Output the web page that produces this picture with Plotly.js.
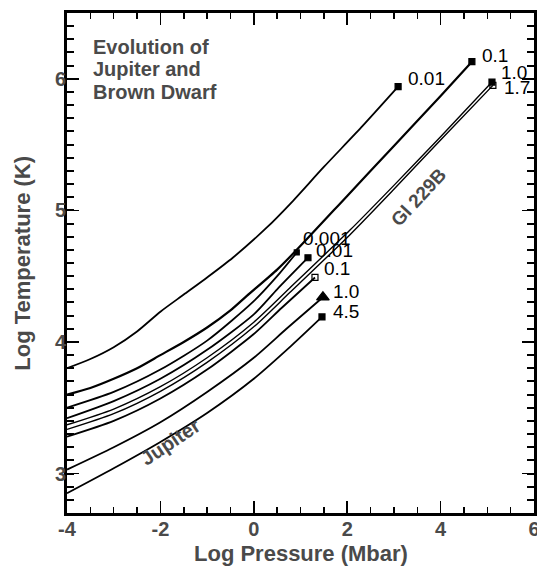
<!DOCTYPE html>
<html>
<head>
<meta charset="utf-8">
<script src="https://cdn.plot.ly/plotly-3.0.1.min.js"></script>
<style>html,body{margin:0;padding:0;background:#fff;}#chart{width:537px;height:566px;}</style>
</head>
<body>
<div id="chart"></div>
<script>
// ---- data (log P in Mbar, log T in K) ----
// Gl 229B (brown dwarf) curves, ages in Gyr
const bd001_x = [-4, -3.5, -3, -2.5, -2, -1.5, -1, -0.45, 0.28, 0.78, 1.5, 2.3, 3.09];
const bd001_y = [3.80, 3.87, 3.96, 4.08, 4.23, 4.36, 4.49, 4.64, 4.87, 5.05, 5.33, 5.63, 5.94];
const bd01_x = [-4, -3.5, -3, -2.5, -2, -1.5, -1, -0.5, -0.15, 0.5, 0.92, 2, 3, 4, 4.67];
const bd01_y = [3.60, 3.65, 3.72, 3.80, 3.90, 4.00, 4.11, 4.24, 4.35, 4.55, 4.70, 5.11, 5.49, 5.87, 6.13];
const bd10_x = [-4, -3, -2, -1, 0, 0.77, 2.06, 3, 4, 5.10];
const bd10_y = [3.37, 3.49, 3.66, 3.88, 4.15, 4.41, 4.85, 5.19, 5.56, 5.975];
const bd17_x = [-4, -3, -2, -1, 0, 0.77, 2.06, 3, 4, 5.12];
const bd17_y = [3.335, 3.455, 3.625, 3.845, 4.115, 4.375, 4.815, 5.16, 5.535, 5.95];
// Jupiter curves, ages in Gyr
const jup0001_x = [-4, -3, -2, -1, 0, 0.5, 0.92];
const jup0001_y = [3.50, 3.62, 3.79, 4.01, 4.31, 4.50, 4.68];
const jup001_x = [-4, -3, -2, -1, 0, 0.5, 1.16];
const jup001_y = [3.42, 3.55, 3.72, 3.94, 4.21, 4.40, 4.64];
const jup01_x = [-4, -3, -2, -1, 0, 0.6, 1.31];
const jup01_y = [3.28, 3.40, 3.57, 3.79, 4.06, 4.26, 4.49];
const jup10_x = [-4, -3, -2, -1, 0, 0.7, 1.48];
const jup10_y = [3.03, 3.20, 3.39, 3.62, 3.88, 4.10, 4.34];
const jup45_x = [-4, -3, -2, -1, 0, 0.8, 1.46];
const jup45_y = [2.85, 3.04, 3.24, 3.46, 3.72, 3.97, 4.19];

const ageLabels = ['0.01', '0.1', '1.0', '1.7', '0.001', '0.01', '0.1', '1.0', '4.5'];
const xTickVals = [-4, -2, 0, 2, 4, 6];
const yTickVals = [3, 4, 5, 6];

// ---- drawing ----
const series = [
  {x: bd001_x, y: bd001_y, sym: 'square', size: 6, w: 1.8, dx: 8, dy: 8},
  {x: bd01_x, y: bd01_y, sym: 'square', size: 6, w: 2.2, dx: 8, dy: 6},
  {x: bd10_x, y: bd10_y, sym: 'square', size: 6, w: 1.4, dx: 7, dy: 10},
  {x: bd17_x, y: bd17_y, sym: 'square-open', size: 6, w: 1.4, dx: 9, dy: -2},
  {x: jup0001_x, y: jup0001_y, sym: 'square', size: 5, w: 1.8, dx: 4, dy: 14},
  {x: jup001_x, y: jup001_y, sym: 'square', size: 6, w: 1.8, dx: 6, dy: 7},
  {x: jup01_x, y: jup01_y, sym: 'square-open', size: 6, w: 1.8, dx: 7, dy: 9},
  {x: jup10_x, y: jup10_y, sym: 'triangle-up', size: 11, w: 1.8, dx: 8, dy: 6},
  {x: jup45_x, y: jup45_y, sym: 'square', size: 6, w: 1.8, dx: 9, dy: 5}
];

const traces = [];
const annotations = [];
const FONT = 'Arial, "Liberation Sans", Helvetica, sans-serif';
series.forEach((s, i) => {
  traces.push({
    x: s.x, y: s.y, type: 'scatter', mode: 'lines',
    line: {color: '#000', width: s.w, shape: 'spline', smoothing: 0.7},
    hoverinfo: 'skip', showlegend: false
  });
  const n = s.x.length - 1;
  traces.push({
    x: [s.x[n]], y: [s.y[n]], type: 'scatter', mode: 'markers',
    marker: {symbol: s.sym, size: s.size, color: '#000', line: {color: '#000', width: 1.2}},
    hoverinfo: 'skip', showlegend: false
  });
  annotations.push({
    x: s.x[n], y: s.y[n], xref: 'x', yref: 'y', text: ageLabels[i],
    showarrow: false, xanchor: 'left', yanchor: 'middle',
    xshift: s.dx, yshift: s.dy,
    font: {family: FONT, size: 19, color: '#000'}
  });
});
// empty trace so the mirrored (top/right) axes with minor ticks exist
traces.push({x: [], y: [], xaxis: 'x2', yaxis: 'y2', type: 'scatter', mode: 'lines', showlegend: false, hoverinfo: 'skip'});

const gray = '#4a4a4a';
const boldFont = (size) => ({family: FONT, size: size, color: gray, weight: 'bold'});
annotations.push(
  {xref: 'paper', yref: 'paper', x: 0.051, y: 0.932, text: 'Evolution of', showarrow: false,
   xanchor: 'left', yanchor: 'middle', font: boldFont(20)},
  {xref: 'paper', yref: 'paper', x: 0.051, y: 0.888, text: 'Jupiter and', showarrow: false,
   xanchor: 'left', yanchor: 'middle', font: boldFont(20)},
  {xref: 'paper', yref: 'paper', x: 0.051, y: 0.842, text: 'Brown Dwarf', showarrow: false,
   xanchor: 'left', yanchor: 'middle', font: boldFont(20)},
  {xref: 'x', yref: 'y', x: -1.79, y: 3.24, text: 'Jupiter', showarrow: false, textangle: -34,
   font: boldFont(20)},
  {xref: 'x', yref: 'y', x: 3.52, y: 5.10, text: 'Gl 229B', showarrow: false, textangle: -47,
   font: boldFont(19)},
  // axis titles
  {xref: 'paper', yref: 'paper', x: 0.5, y: -0.081, text: 'Log Pressure (Mbar)', showarrow: false,
   xanchor: 'center', yanchor: 'middle', font: boldFont(22)},
  {xref: 'paper', yref: 'paper', x: -0.097, y: 0.5, text: 'Log Temperature (K)', showarrow: false,
   textangle: -90, xanchor: 'center', yanchor: 'middle', font: boldFont(22)}
);

const axisCommon = {
  showgrid: false, zeroline: false, showline: true, linecolor: '#000', linewidth: 3,
  mirror: 'ticks', ticks: 'inside', tickcolor: '#000', tickwidth: 1.5, ticklen: 12,
  tickfont: {family: FONT, size: 20, color: gray, weight: 'bold'},
  ticklabeloverflow: 'allow'
};
const xMinor = {dtick: 0.5, tick0: 0, ticks: 'inside', ticklen: 6, tickwidth: 1.5, tickcolor: '#000'};
const yMinor = {dtick: 0.1, tick0: 0, ticks: 'inside', ticklen: 7, tickwidth: 2, tickcolor: '#000'};
const xRange = [-4, 6];
const yRange = [2.7, 6.5];

const layout = {
  width: 537, height: 566,
  margin: {l: 67, r: 3, t: 13, b: 53},
  paper_bgcolor: '#fff', plot_bgcolor: '#fff',
  showlegend: false,
  xaxis: Object.assign({}, axisCommon, {
    range: xRange, tickvals: xTickVals, ticktext: xTickVals.map(String),
    minor: xMinor, ticklabelstandoff: -4
  }),
  yaxis: Object.assign({}, axisCommon, {
    range: yRange, tickvals: yTickVals, ticktext: yTickVals.map(String),
    minor: yMinor, ticklabelstandoff: -6
  }),
  xaxis2: {
    overlaying: 'x', side: 'top', anchor: 'y', range: xRange, showgrid: false, zeroline: false,
    showline: false, ticks: 'inside', tickcolor: '#000', tickwidth: 1.5, ticklen: 12,
    tickvals: xTickVals, showticklabels: false, minor: xMinor
  },
  yaxis2: {
    overlaying: 'y', side: 'right', anchor: 'x', range: yRange, showgrid: false, zeroline: false,
    showline: false, ticks: 'inside', tickcolor: '#000', tickwidth: 1.5, ticklen: 12,
    tickvals: yTickVals, showticklabels: false, minor: yMinor
  },
  annotations: annotations
};

Plotly.newPlot('chart', traces, layout, {staticPlot: true, displayModeBar: false});
</script>
</body>
</html>
